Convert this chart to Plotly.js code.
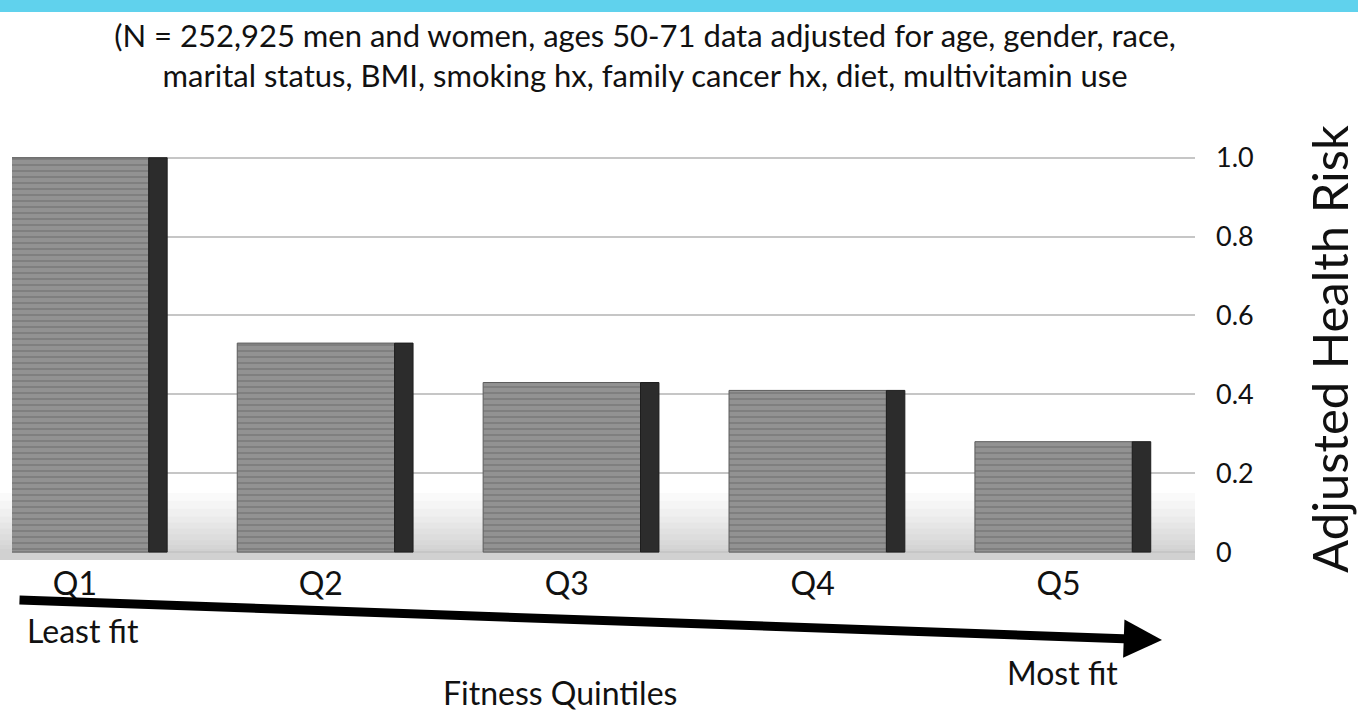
<!DOCTYPE html>
<html>
<head>
<meta charset="utf-8">
<script src="https://cdn.plot.ly/plotly-3.0.1.min.js"></script>
<style>
  html, body { margin: 0; padding: 0; background: #ffffff; }
  #chart { width: 1358px; height: 712px; }
</style>
</head>
<body>
<div id="chart"></div>
<script>
// Fitness quintiles and their adjusted relative health risk
const categories = ['Q1', 'Q2', 'Q3', 'Q4', 'Q5'];
const riskValues = [1.0, 0.53, 0.43, 0.41, 0.28];

// Risk axis ticks
const yTickValues = [0, 0.2, 0.4, 0.6, 0.8, 1.0];
const yTickLabels = ['0', '0.2', '0.4', '0.6', '0.8', '1.0'];

const FONT = 'Lato, "Open Sans", sans-serif';

// Plot area geometry (pixels) used to place the decorative annotations
const W = 1358, H = 712;
const M = { l: 12, r: 163, t: 138, b: 152 };
const plotW = W - M.l - M.r;
const plotH = H - M.t - M.b;
const xp = px => (px - M.l) / plotW;
const yp = py => (H - M.b - py) / plotH;

// Front face of each bar, with a fine horizontal brushed texture
const frontFace = {
  type: 'bar',
  x: categories,
  y: riskValues,
  width: 0.64,
  offset: -0.34,
  marker: {
    color: '#8d8d8d',
    pattern: { shape: '-', fgcolor: '#7d7d7d', bgcolor: '#929292', size: 6, solidity: 0.3 },
    line: { color: '#5c5c5c', width: 1 }
  },
  hoverinfo: 'x+y',
  showlegend: false
};

// Dark right-hand side of each bar, giving the block its depth
const sideFace = {
  type: 'bar',
  x: categories,
  y: riskValues,
  width: 0.075,
  offset: 0.30,
  marker: { color: '#2c2c2c', line: { color: '#1e1e1e', width: 1 } },
  hoverinfo: 'skip',
  showlegend: false
};

// Soft floor shadow rising behind the blocks (many faint layers fade it upward)
const shadowBands = [0.15, 0.13, 0.11, 0.09, 0.075, 0.06, 0.045, 0.03, 0.018, 0.008].map(h => ({
  type: 'rect', xref: 'paper', yref: 'y', layer: 'below',
  x0: -0.02, x1: 1, y0: -0.02, y1: h,
  fillcolor: '#6a6a6a', opacity: 0.035, line: { width: 0 }
}));

const layout = {
  width: W,
  height: H,
  margin: M,
  paper_bgcolor: '#ffffff',
  plot_bgcolor: '#ffffff',
  barmode: 'overlay',
  font: { family: FONT, color: '#111111' },
  title: {
    text: '(N = 252,925 men and women, ages 50-71 data adjusted for age, gender, race,<br>marital status, BMI, smoking hx, family cancer hx, diet, multivitamin use',
    x: 0.475,
    xanchor: 'center',
    y: 1 - 47 / H,
    yanchor: 'top',
    font: { family: FONT, size: 31, color: '#111111' }
  },
  xaxis: {
    type: 'category',
    range: [-0.256, 4.555],
    showgrid: false,
    zeroline: false,
    showline: false,
    ticks: '',
    ticklabelstandoff: 2,
    tickfont: { family: FONT, size: 32, color: '#111111' },
    fixedrange: true
  },
  yaxis: {
    side: 'right',
    range: [-0.02, 1.05],
    tickvals: yTickValues,
    ticktext: yTickLabels,
    showgrid: true,
    gridcolor: '#c6c6c6',
    gridwidth: 2,
    zeroline: false,
    showline: false,
    ticks: '',
    ticklabelstandoff: 20,
    tickfont: { family: FONT, size: 27, color: '#111111' },
    title: {
      text: 'Adjusted Health Risk',
      standoff: 62,
      font: { family: FONT, size: 49, color: '#111111' }
    },
    fixedrange: true
  },
  shapes: shadowBands.concat([
    // cyan band across the top edge
    { type: 'rect', xref: 'paper', yref: 'paper', layer: 'above',
      x0: xp(0), x1: xp(W), y0: yp(12), y1: yp(0),
      fillcolor: '#60d2ed', line: { width: 0 } }
  ]),
  annotations: [
    // fitness direction arrow
    { xref: 'paper', yref: 'paper', x: xp(1162), y: yp(640),
      ax: 18 - 1162, ay: 600 - 640, axref: 'pixel', ayref: 'pixel',
      text: '', showarrow: true, arrowhead: 2, arrowsize: 0.85,
      arrowwidth: 9, arrowcolor: '#000000' },
    { xref: 'paper', yref: 'paper', x: xp(25), y: yp(630),
      xanchor: 'left', yanchor: 'middle', showarrow: false,
      text: 'Least fit', font: { family: FONT, size: 32, color: '#111111' } },
    { xref: 'paper', yref: 'paper', x: xp(1062), y: yp(672),
      xanchor: 'center', yanchor: 'middle', showarrow: false,
      text: 'Most fit', font: { family: FONT, size: 32, color: '#111111' } },
    { xref: 'paper', yref: 'paper', x: xp(560), y: yp(692),
      xanchor: 'center', yanchor: 'middle', showarrow: false,
      text: 'Fitness Quintiles', font: { family: FONT, size: 32, color: '#111111' } }
  ]
};

Plotly.newPlot('chart', [frontFace, sideFace], layout, { displayModeBar: false, staticPlot: true });
</script>
</body>
</html>
